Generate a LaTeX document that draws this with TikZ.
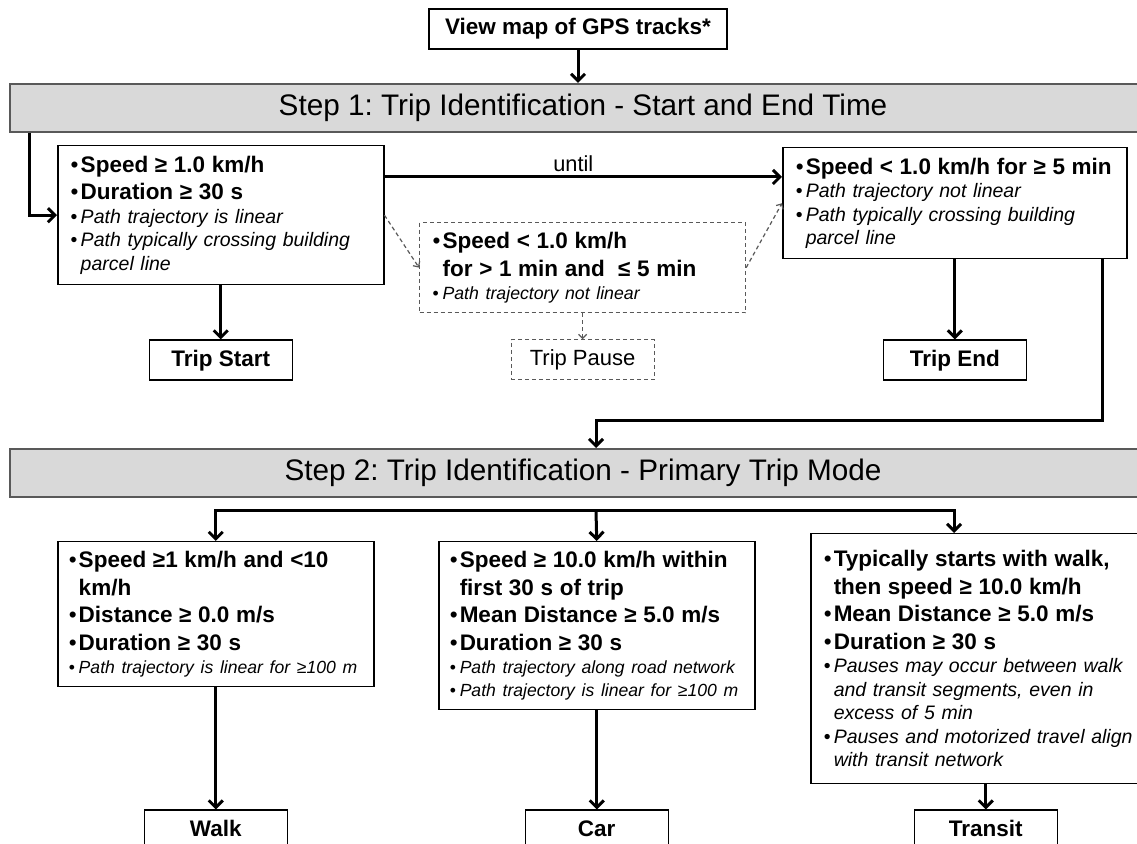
\documentclass[tikz,border=0pt]{standalone}
\usepackage{fontspec}
\setmainfont{Liberation Sans}
\usetikzlibrary{positioning, arrows.meta, calc}
\definecolor{barfill}{gray}{0.85}
\definecolor{barline}{gray}{0.35}
\definecolor{dashgray}{gray}{0.35}
\frenchspacing
\newcommand{\barfont}{\fontsize{14.85}{17}\selectfont}
\newcommand{\critbf}{\fontsize{11.25}{13.75}\selectfont\bfseries}
\newcommand{\critit}{\fontsize{9.75}{11.75}\selectfont\itshape}
\newcommand{\critsmit}{\fontsize{8.8}{11.5}\selectfont\itshape}
\newcommand{\crit}[2]{{#1\hangindent=5pt\hangafter=1\noindent
  \makebox[5pt][l]{\mdseries\upshape\textbullet}#2\par}}
\tikzset{
  stepbar/.style   = {draw=barline, fill=barfill, line width=1pt, anchor=north west,
                      minimum width=573pt, minimum height=24pt, inner sep=0pt,
                      font=\barfont},
  critbox/.style   = {draw, line width=0.75pt, anchor=north west, align=left,
                      inner xsep=6.5pt, inner ysep=3pt, fill=white},
  pausebox/.style  = {critbox, draw=dashgray, line width=0.6pt,
                      dash pattern=on 2pt off 1.5pt},
  lblbox/.style    = {draw, line width=0.75pt, minimum width=71.5pt,
                      minimum height=20pt, inner sep=1pt, text height=8.2pt,
                      text depth=2.4pt, font=\critbf, fill=white},
  pauselbl/.style  = {lblbox, draw=dashgray, line width=0.6pt,
                      dash pattern=on 2pt off 1.5pt, font=\fontsize{11}{13}\selectfont},
  flowarrow/.style = {line width=1.5pt, -{Straight Barb[length=3.5pt,width=7pt]}},
  flowboth/.style  = {line width=1.5pt,
                      {Straight Barb[length=3.5pt,width=7pt]}-{Straight Barb[length=3.5pt,width=7pt]}},
  dasharrow/.style = {draw=dashgray, line width=0.6pt, dash pattern=on 2pt off 1.5pt,
                      -{Straight Barb[length=2pt,width=4pt]}},
  untillbl/.style  = {font=\fontsize{10.9}{13}\selectfont, inner sep=2pt}
}

\begin{document}
\begin{tikzpicture}[x=0.5pt, y=-0.5pt]
  \useasboundingbox (0,0) rectangle (1137,844);
  \clip (0,0) rectangle (1137,844);
  \fill[white] (0,0) rectangle (1137,844);

  % step 1
  \node[lblbox, minimum width=149pt] (gps) at (578,29) {View map of GPS tracks*};
  \node[stepbar] (step1) at (9,83) {Step 1: Trip Identification - Start and End Time};

  \node[critbox, text width=150pt, minimum height=69.5pt] (startcrit) at (57,145) {
    \crit{\critbf}{Speed ≥ 1.0 km/h}
    \crit{\critbf}{Duration ≥ 30 s}
    \crit{\critit}{Path trajectory is linear}
    \crit{\critit}{Path typically crossing building\newline parcel line}};
  \node[pausebox, text width=150pt, minimum height=45pt] (pausecrit) at (419,222) {
    \crit{\critbf}{Speed < 1.0 km/h\newline for > 1 min and \ ≤ 5 min}
    \crit{\fontsize{8.85}{11.5}\selectfont\itshape}{Path trajectory not linear}};
  \node[critbox, text width=159pt, minimum height=55.5pt] (endcrit) at (782,147) {
    \crit{\critbf}{Speed < 1.0 km/h for ≥ 5 min}
    \crit{\critit}{Path trajectory not linear}
    \crit{\critit}{Path typically crossing building\newline parcel line}};

  \node[lblbox, below=27pt of startcrit]  (tripstart) {Trip Start};
  \node[pauselbl, below=13pt of pausecrit] (trippause) {Trip Pause};
  \node[lblbox, below=40pt of endcrit]    (tripend)   {Trip End};

  % step 2
  \node[stepbar] (step2) at (9,448) {Step 2: Trip Identification - Primary Trip Mode};

  \node[critbox, text width=147pt, inner xsep=5.5pt, minimum height=72.5pt] (walkcrit) at (57,541) {
    \crit{\critbf}{Speed ≥1 km/h and <10\newline km/h}
    \crit{\critbf}{Distance ≥ 0.0 m/s}
    \crit{\critbf}{Duration ≥ 30 s}
    \crit{\critsmit}{Path trajectory is linear for ≥100 m}};
  \node[critbox, text width=147pt, inner xsep=5.5pt, minimum height=84pt] (carcrit) at (438,541) {
    \crit{\critbf}{Speed ≥ 10.0 km/h within\newline first 30 s of trip}
    \crit{\critbf}{Mean Distance ≥ 5.0 m/s}
    \crit{\critbf}{Duration ≥ 30 s}
    \crit{\critsmit}{Path trajectory along road network}
    \crit{\critsmit}{Path trajectory is linear for ≥100 m}};
  \node[critbox, text width=162pt, minimum height=125pt] (transitcrit) at (810,533) {
    \crit{\critbf}{Typically starts with walk,\newline then speed ≥ 10.0 km/h}
    \crit{\critbf}{Mean Distance ≥ 5.0 m/s}
    \crit{\critbf}{Duration ≥ 30 s}
    \crit{\critit}{Pauses may occur between walk\newline and transit segments, even in\newline excess of 5 min}
    \crit{\critit}{Pauses and motorized travel align\newline with transit network}};

  \node[lblbox, below=61pt of walkcrit]      (walk)    {Walk};
  \node[lblbox, below=49.5pt of carcrit]     (car)     {Car};
  \node[lblbox, below=12.5pt of transitcrit] (transit) {Transit};

  \coordinate (loopturn) at (596,421);
  \coordinate (fork)     at (596,511);
  \coordinate (forkT)    at (954,511);

  \draw[flowarrow] (gps) -- (gps |- step1.north);
  \draw[flowarrow] ($(step1.south west)+(20,0)$) |- (startcrit.west);
  \draw[flowarrow] ([yshift=-16pt]startcrit.north east)
        -- node[untillbl, above, pos=0.475] {until} ([yshift=-16pt]startcrit.north east -| endcrit.west);
  \draw[dasharrow] (startcrit.east) -- (pausecrit.west);
  \draw[dasharrow] (pausecrit.east) -- (endcrit.west);
  \draw[dasharrow] (pausecrit.south) -- (trippause.north);
  \draw[flowarrow] (startcrit) -- (tripstart);
  \draw[flowarrow] (endcrit) -- (tripend);
  \draw[flowarrow] ($(endcrit.south east)+(-25,0)$) |- (loopturn) -- (loopturn |- step2.north);

  \draw[flowboth]  (walkcrit.north) |- (forkT) -- (forkT |- transitcrit.north);
  \draw[flowarrow] (fork) -- (carcrit.north);
  \draw[flowarrow] (walkcrit) -- (walk);
  \draw[flowarrow] (carcrit) -- (car);
  \draw[flowarrow] (transitcrit) -- (transit);
\end{tikzpicture}
\end{document}
